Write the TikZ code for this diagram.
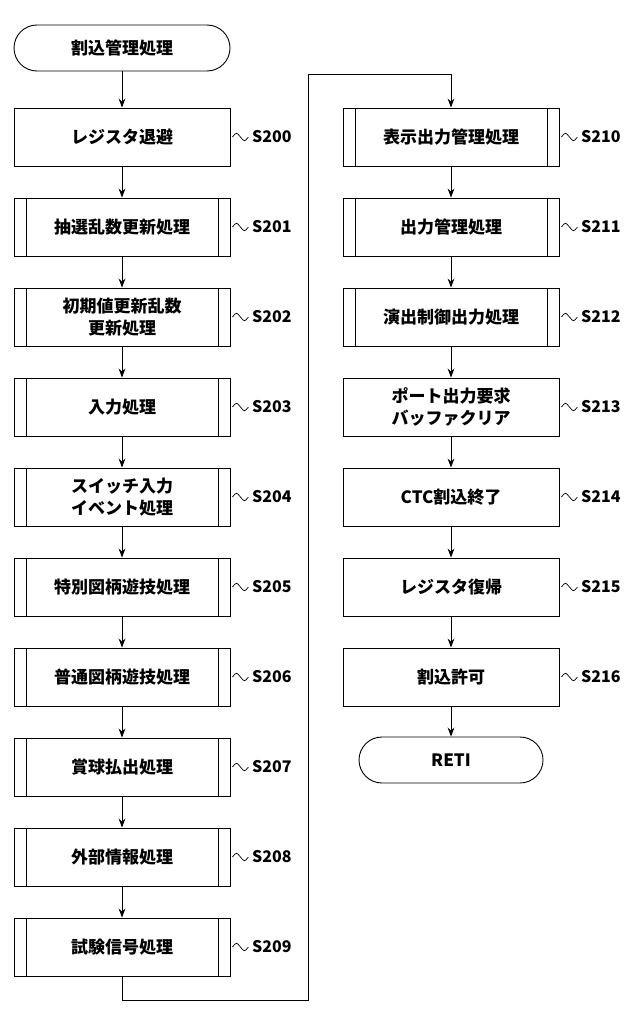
\documentclass[tikz,border=0pt]{standalone}
\usepackage{fontspec}
\setmainfont{Noto Sans CJK JP}
\usetikzlibrary{arrows.meta}

\tikzset{
  proc/.style={draw,rectangle,minimum width=216pt,minimum height=58pt,align=center,font=\fontsize{17}{22}\selectfont\bfseries},
  sub/.style={proc,path picture={
    \draw ([xshift=12pt]path picture bounding box.north west) -- ([xshift=12pt]path picture bounding box.south west);
    \draw ([xshift=-12pt]path picture bounding box.north east) -- ([xshift=-12pt]path picture bounding box.south east);}},
  term/.style={draw,rectangle,rounded corners=23pt,minimum width=184pt,minimum height=46pt,font=\fontsize{17}{22}\selectfont\bfseries},
  steplabel/.style={font=\fontsize{16}{19}\selectfont\bfseries,anchor=west},
}

\begin{document}
\begin{tikzpicture}[x=1pt,y=-1pt,thick,line width=0.9pt]
	\useasboundingbox (0,0) rectangle (640,1033);
	\node[term,minimum width=216pt] (start)at(122,48) {割込管理処理};
	\node[proc] (S200)at(122,137) {レジスタ退避};
	\node[sub] (S201)at(122,227) {抽選乱数更新処理};
	\node[sub] (S202)at(122,317) {初期値更新乱数\\更新処理};
	\node[sub] (S203)at(122,407) {入力処理};
	\node[sub] (S204)at(122,497) {スイッチ入力\\イベント処理};
	\node[sub] (S205)at(122,587) {特別図柄遊技処理};
	\node[sub] (S206)at(122,677) {普通図柄遊技処理};
	\node[sub] (S207)at(122,767) {賞球払出処理};
	\node[sub] (S208)at(122,857) {外部情報処理};
	\node[sub] (S209)at(122,947) {試験信号処理};
	\node[sub] (S210)at(451,137) {表示出力管理処理};
	\node[sub] (S211)at(451,227) {出力管理処理};
	\node[sub] (S212)at(451,317) {演出制御出力処理};
	\node[proc] (S213)at(451,407) {ポート出力要求\\バッファクリア};
	\node[proc] (S214)at(451,497) {CTC割込終了};
	\node[proc] (S215)at(451,587) {レジスタ復帰};
	\node[proc] (S216)at(451,677) {割込許可};
	\node[term] (end)at(451,760) {RETI};
	\coordinate (loopA)at(122,1000);
	\coordinate (loopB)at(308,1000);
	\coordinate (loopC)at(308,74);
	\coordinate (loopD)at(451,74);
	\foreach \s in {S200,S201,S202,S203,S204,S205,S206,S207,S208,S209,S210,S211,S212,S213,S214,S215,S216} {
		\draw[line width=0.7pt] (\s.east) ++(2,0) .. controls +(4,-5) and +(-4,-5) .. +(8,0) .. controls +(4,5) and +(-4,5) .. +(16,0);
		\node[steplabel] at ([xshift=18pt]\s.east) {\s};
	}
	\draw[-{Stealth[length=9pt]}] (start) -- (S200);
	\draw[-{Stealth[length=9pt]}] (S200) -- (S201);
	\draw[-{Stealth[length=9pt]}] (S201) -- (S202);
	\draw[-{Stealth[length=9pt]}] (S202) -- (S203);
	\draw[-{Stealth[length=9pt]}] (S203) -- (S204);
	\draw[-{Stealth[length=9pt]}] (S204) -- (S205);
	\draw[-{Stealth[length=9pt]}] (S205) -- (S206);
	\draw[-{Stealth[length=9pt]}] (S206) -- (S207);
	\draw[-{Stealth[length=9pt]}] (S207) -- (S208);
	\draw[-{Stealth[length=9pt]}] (S208) -- (S209);
	\draw[-{Stealth[length=9pt]}] (S209) -- (loopA) -- (loopB) -- (loopC) -- (loopD) -- (S210);
	\draw[-{Stealth[length=9pt]}] (S210) -- (S211);
	\draw[-{Stealth[length=9pt]}] (S211) -- (S212);
	\draw[-{Stealth[length=9pt]}] (S212) -- (S213);
	\draw[-{Stealth[length=9pt]}] (S213) -- (S214);
	\draw[-{Stealth[length=9pt]}] (S214) -- (S215);
	\draw[-{Stealth[length=9pt]}] (S215) -- (S216);
	\draw[-{Stealth[length=9pt]}] (S216) -- (end);
\end{tikzpicture}
\end{document}
